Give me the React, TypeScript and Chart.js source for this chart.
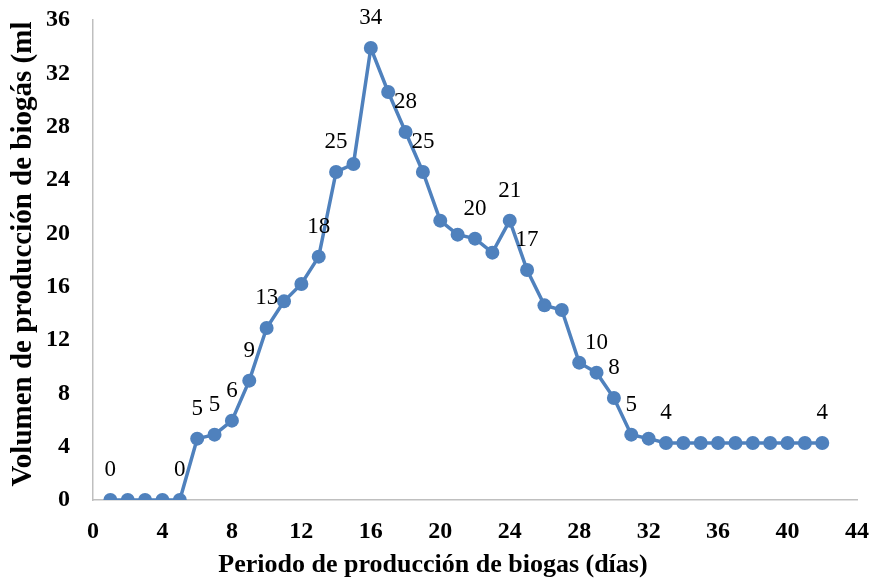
import React, { useEffect, useRef } from "react";
import { Chart, registerables } from "chart.js";

Chart.register(...registerables);

const days = [1, 2, 3, 4, 5, 6, 7, 8, 9, 10, 11, 12, 13, 14, 15, 16, 17, 18, 19, 20, 21, 22, 23, 24, 25, 26, 27, 28, 29, 30, 31, 32, 33, 34, 35, 36, 37, 38, 39, 40, 41, 42];
const volumes = [0, 0, 0, 0, 0, 4.6, 4.9, 5.95, 8.95, 12.9, 14.9, 16.2, 18.25, 24.6, 25.2, 33.9, 30.6, 27.6, 24.6, 20.95, 19.9, 19.6, 18.55, 20.95, 17.25, 14.6, 14.25, 10.3, 9.55, 7.65, 4.9, 4.6, 4.27, 4.27, 4.27, 4.27, 4.27, 4.27, 4.27, 4.27, 4.27, 4.27];
const labeledDays = [1, 5, 6, 7, 8, 9, 10, 13, 14, 16, 18, 19, 22, 24, 25, 29, 30, 31, 33, 42];
const xTitle = "Periodo de producción de biogas (días)";
const yTitle = "Volumen de producción de biogás (ml";

const SERIF = "'Liberation Serif', 'Times New Roman', serif";

export default function App() {
  const ref = useRef<HTMLCanvasElement | null>(null);
  useEffect(() => {
    if (!ref.current) return;
    const labelPlugin = {
      id: "pointLabels",
      afterDatasetsDraw(chart: any) {
        const ctx = chart.ctx;
        const meta = chart.getDatasetMeta(0);
        ctx.save();
        ctx.fillStyle = "#000";
        ctx.font = `23px ${SERIF}`;
        ctx.textAlign = "center";
        ctx.textBaseline = "middle";
        labeledDays.forEach((d) => {
          const i = days.indexOf(d);
          const el = meta.data[i];
          if (!el) return;
          ctx.fillText(String(Math.round(volumes[i])), el.x, el.y - 30);
        });
        ctx.restore();
      },
    };
    const titlePlugin = {
      id: "axisTitles",
      afterDraw(chart: any) {
        const ctx = chart.ctx;
        const ca = chart.chartArea;
        ctx.save();
        ctx.fillStyle = "#000";
        ctx.textAlign = "center";
        ctx.textBaseline = "middle";
        ctx.font = `bold 26px ${SERIF}`;
        ctx.fillText(xTitle, ca.left + (ca.right - ca.left) * 0.445, 565);
        ctx.font = `bold 29px ${SERIF}`;
        ctx.translate(24, (ca.top + ca.bottom) / 2 - 6);
        ctx.rotate(-Math.PI / 2);
        ctx.fillText(yTitle, 0, 0);
        ctx.restore();
      },
    };
    const chart = new Chart(ref.current, {
      type: "line",
      data: {
        datasets: [
          {
            data: days.map((d, i) => ({ x: d, y: volumes[i] })),
            borderColor: "#4F81BD",
            backgroundColor: "#4F81BD",
            borderWidth: 3.5,
            pointRadius: 7,
            pointBorderWidth: 0,
            pointBackgroundColor: "#4F81BD",
            tension: 0,
          },
        ],
      },
      options: {
        responsive: false,
        animation: false,
        layout: { padding: { top: 20, right: 16, left: 0, bottom: 0 } },
        plugins: { legend: { display: false }, tooltip: { enabled: false } },
        scales: {
          x: {
            type: "linear",
            min: 0,
            max: 44,
            afterFit: (s: any) => {
              s.height = 81;
              s.paddingLeft = 0;
              s.paddingRight = 0;
            },
            ticks: {
              stepSize: 4,
              color: "#000",
              padding: 17,
              font: { family: SERIF, size: 24, weight: "bold" },
            },
            grid: { display: false, drawTicks: false },
            border: { display: true, color: "#bfbfbf", width: 1.5 },
          },
          y: {
            min: 0,
            max: 36,
            afterFit: (s: any) => {
              s.width = 93;
              s.paddingTop = 0;
              s.paddingBottom = 0;
            },
            ticks: {
              stepSize: 4,
              color: "#000",
              padding: 23,
              font: { family: SERIF, size: 24, weight: "bold" },
            },
            grid: { display: false, drawTicks: false },
            border: { display: true, color: "#bfbfbf", width: 1.5 },
          },
        },
      },
      plugins: [labelPlugin, titlePlugin],
    });
    return () => chart.destroy();
  }, []);
  return (
    <div style={{ position: "fixed", left: 0, top: 0, width: 873, height: 581, background: "#fff" }}>
      <canvas ref={ref} width={873} height={581} style={{ display: "block" }} />
    </div>
  );
}
